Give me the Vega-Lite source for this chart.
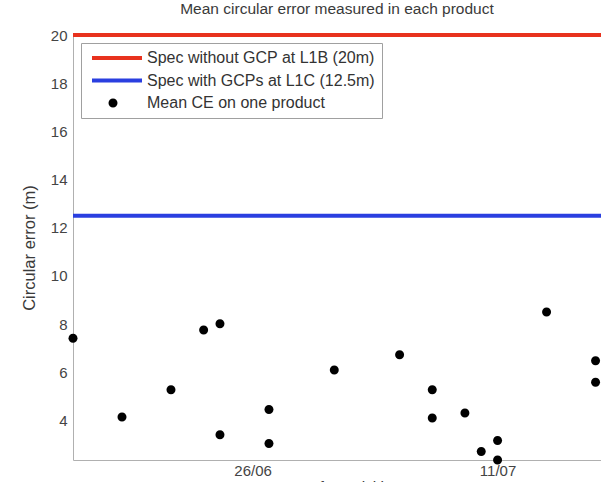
{
  "$schema": "https://vega.github.io/schema/vega-lite/v6.json",
  "width": 528,
  "height": 425,
  "autosize": "none",
  "padding": {"left": 73, "top": 35, "right": 0, "bottom": 22},
  "background": "white",
  "title": {
    "text": "Mean circular error measured in each product",
    "fontSize": 15.5,
    "font": "Liberation Sans",
    "fontWeight": "normal",
    "color": "#3a3a3a",
    "anchor": "middle",
    "offset": 11
  },
  "config": {
    "view": {"stroke": null},
    "font": "Liberation Sans",
    "legend": {
      "padding": 7,
      "strokeColor": "#a0a0a0",
      "fillColor": "white",
      "labelFontSize": 16,
      "labelColor": "#333333",
      "labelFont": "Liberation Sans",
      "symbolSize": 2500,
      "symbolStrokeWidth": 0,
      "symbolOpacity": 1,
      "rowPadding": 6.5,
      "clipHeight": 16,
      "labelOffset": 9,
      "labelLimit": 500
    }
  },
  "encoding": {
    "y": {
      "field": "error_m",
      "type": "quantitative",
      "scale": {"domain": [2.36, 20], "nice": false, "zero": false},
      "axis": {
        "values": [4, 6, 8, 10, 12, 14, 16, 18, 20],
        "title": "Circular error (m)",
        "grid": false,
        "ticks": false,
        "labelPadding": 6,
        "labelFontSize": 15,
        "labelColor": "#444444",
        "domainColor": "#b0b0b0",
        "titleFontSize": 16.5,
        "titleFontWeight": "normal",
        "titleColor": "#3a3a3a",
        "titleX": -36,
        "titleY": 212.5
      }
    }
  },
  "layer": [
    {
      "data": {
        "values": [
          {"series": "Spec without GCP at L1B (20m)", "error_m": 20},
          {"series": "Spec with GCPs at L1C (12.5m)", "error_m": 12.5}
        ]
      },
      "mark": {"type": "rule", "strokeWidth": 4},
      "encoding": {
        "color": {
          "field": "series",
          "type": "nominal",
          "scale": {
            "domain": ["Spec without GCP at L1B (20m)", "Spec with GCPs at L1C (12.5m)", "Mean CE on one product"],
            "range": ["#e8321e", "#2a3fe0", "#000000"]
          },
          "legend": {"title": null, "orient": "none", "legendX": 8, "legendY": 8, "clipHeight": 16}
        }
      }
    },
    {
      "data": {
        "values": [
          {"date": "2015-06-15", "error_m": 7.41, "series": "Mean CE on one product"},
          {"date": "2015-06-18", "error_m": 4.14, "series": "Mean CE on one product"},
          {"date": "2015-06-21", "error_m": 5.28, "series": "Mean CE on one product"},
          {"date": "2015-06-23", "error_m": 7.76, "series": "Mean CE on one product"},
          {"date": "2015-06-24", "error_m": 8.02, "series": "Mean CE on one product"},
          {"date": "2015-06-24", "error_m": 3.41, "series": "Mean CE on one product"},
          {"date": "2015-06-27", "error_m": 4.46, "series": "Mean CE on one product"},
          {"date": "2015-06-27", "error_m": 3.05, "series": "Mean CE on one product"},
          {"date": "2015-07-01", "error_m": 6.10, "series": "Mean CE on one product"},
          {"date": "2015-07-05", "error_m": 6.73, "series": "Mean CE on one product"},
          {"date": "2015-07-07", "error_m": 5.28, "series": "Mean CE on one product"},
          {"date": "2015-07-07", "error_m": 4.10, "series": "Mean CE on one product"},
          {"date": "2015-07-09", "error_m": 4.31, "series": "Mean CE on one product"},
          {"date": "2015-07-10", "error_m": 2.71, "series": "Mean CE on one product"},
          {"date": "2015-07-11", "error_m": 3.17, "series": "Mean CE on one product"},
          {"date": "2015-07-11", "error_m": 2.36, "series": "Mean CE on one product"},
          {"date": "2015-07-14", "error_m": 8.50, "series": "Mean CE on one product"},
          {"date": "2015-07-17", "error_m": 6.48, "series": "Mean CE on one product"},
          {"date": "2015-07-17", "error_m": 5.59, "series": "Mean CE on one product"}
        ]
      },
      "mark": {"type": "point", "filled": true, "size": 2500, "opacity": 1, "strokeWidth": 0},
      "encoding": {
        "x": {
          "field": "date",
          "type": "temporal",
          "scale": {
            "type": "utc",
            "domain": [
              {"year": 2015, "month": 6, "date": 15, "utc": true},
              {"year": 2015, "month": 7, "date": 17, "hours": 8, "utc": true}
            ]
          },
          "axis": {
            "values": [
              {"year": 2015, "month": 6, "date": 26, "utc": true},
              {"year": 2015, "month": 7, "date": 11, "utc": true}
            ],
            "format": "%d/%m",
            "title": "Date of acquisition",
            "grid": false,
            "ticks": false,
            "labelPadding": 3,
            "labelFontSize": 15,
            "labelColor": "#444444",
            "labelFlush": false,
            "domainColor": "#b0b0b0",
            "titleFontSize": 15.5,
            "titleFontWeight": "normal",
            "titleColor": "#3a3a3a",
            "titlePadding": 1
          }
        },
        "color": {
          "field": "series",
          "type": "nominal",
          "scale": {
            "domain": ["Spec without GCP at L1B (20m)", "Spec with GCPs at L1C (12.5m)", "Mean CE on one product"],
            "range": ["#e8321e", "#2a3fe0", "#000000"]
          },
          "legend": {"title": null, "orient": "none", "legendX": 8, "legendY": 8, "clipHeight": 16}
        },
        "shape": {
          "field": "series",
          "type": "nominal",
          "scale": {
            "domain": ["Spec without GCP at L1B (20m)", "Spec with GCPs at L1C (12.5m)", "Mean CE on one product"],
            "range": ["M-0.84,-0.08H1.16V0.08H-0.84Z", "M-0.84,-0.08H1.16V0.08H-0.84Z", "M0,-0.18A0.18,0.18 0 1,1 0,0.18A0.18,0.18 0 1,1 0,-0.18Z"]
          },
          "legend": {"title": null, "orient": "none", "legendX": 8, "legendY": 8, "clipHeight": 16}
        }
      }
    }
  ]
}
